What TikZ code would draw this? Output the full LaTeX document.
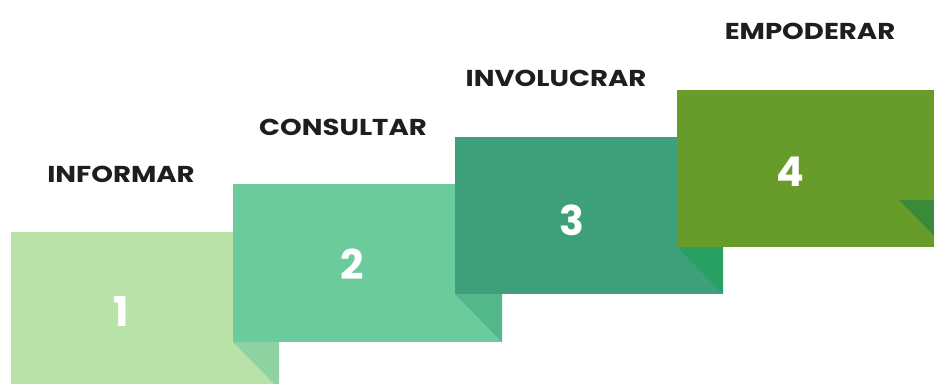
\documentclass[tikz,border=0pt]{standalone}
\usepackage{graphicx}
\usepackage{fontspec}
\setmainfont{Poppins}[BoldFont={* Bold}]
\definecolor{cA}{HTML}{B8E2A8}
\definecolor{fA}{HTML}{8FD3A2}
\definecolor{cB}{HTML}{6CCB9C}
\definecolor{fB}{HTML}{52B88C}
\definecolor{cC}{HTML}{3DA07A}
\definecolor{fC}{HTML}{29A063}
\definecolor{cD}{HTML}{679C2A}
\definecolor{fD}{HTML}{3A8A3A}
\definecolor{txt}{HTML}{1E1E1E}
\newcommand{\widelbl}[1]{\scalebox{1.2}[1]{#1}}
\tikzset{
  lbl/.style={font=\bfseries\fontsize{23}{23}\selectfont, text=txt, inner sep=0pt, anchor=center},
  num/.style={font=\bfseries\fontsize{41}{41}\selectfont, text=white, inner sep=0pt, anchor=center},
}
\begin{document}
\begin{tikzpicture}[x=1pt,y=-1pt]
\useasboundingbox (0,0) rectangle (934,383);
\begin{scope}
\clip (0,0) rectangle (934,383);
% box 1
\fill[cA] (11,232) rectangle (279,389);
\fill[fA] (233,342) -- (279,342) -- (279,389) -- cycle;
% box 2
\fill[cB] (233,184) rectangle (502,342);
\fill[fB] (455,294) -- (502,294) -- (502,342) -- cycle;
% box 3
\fill[cC] (455,137) rectangle (723,294);
\fill[fC] (677,247) -- (723,247) -- (723,294) -- cycle;
% box 4
\fill[cD] (677,90) rectangle (945,247);
\fill[fD] (899,200) -- (945,200) -- (945,247) -- cycle;
\end{scope}
\node[lbl] (l1) at (121,174) {\widelbl{INFORMAR}};
\node[lbl] (l2) at (343,127) {\widelbl{CONSULTAR}};
\node[lbl] (l3) at (556,78) {\widelbl{INVOLUCRAR}};
\node[lbl] (l4) at (810,31) {\widelbl{EMPODERAR}};
\node[num] (n1) at (121,312) {1};
\node[num] (n2) at (352,264) {2};
\node[num] (n3) at (572,220) {3};
\node[num] (n4) at (790,172) {4};
\end{tikzpicture}
\end{document}
